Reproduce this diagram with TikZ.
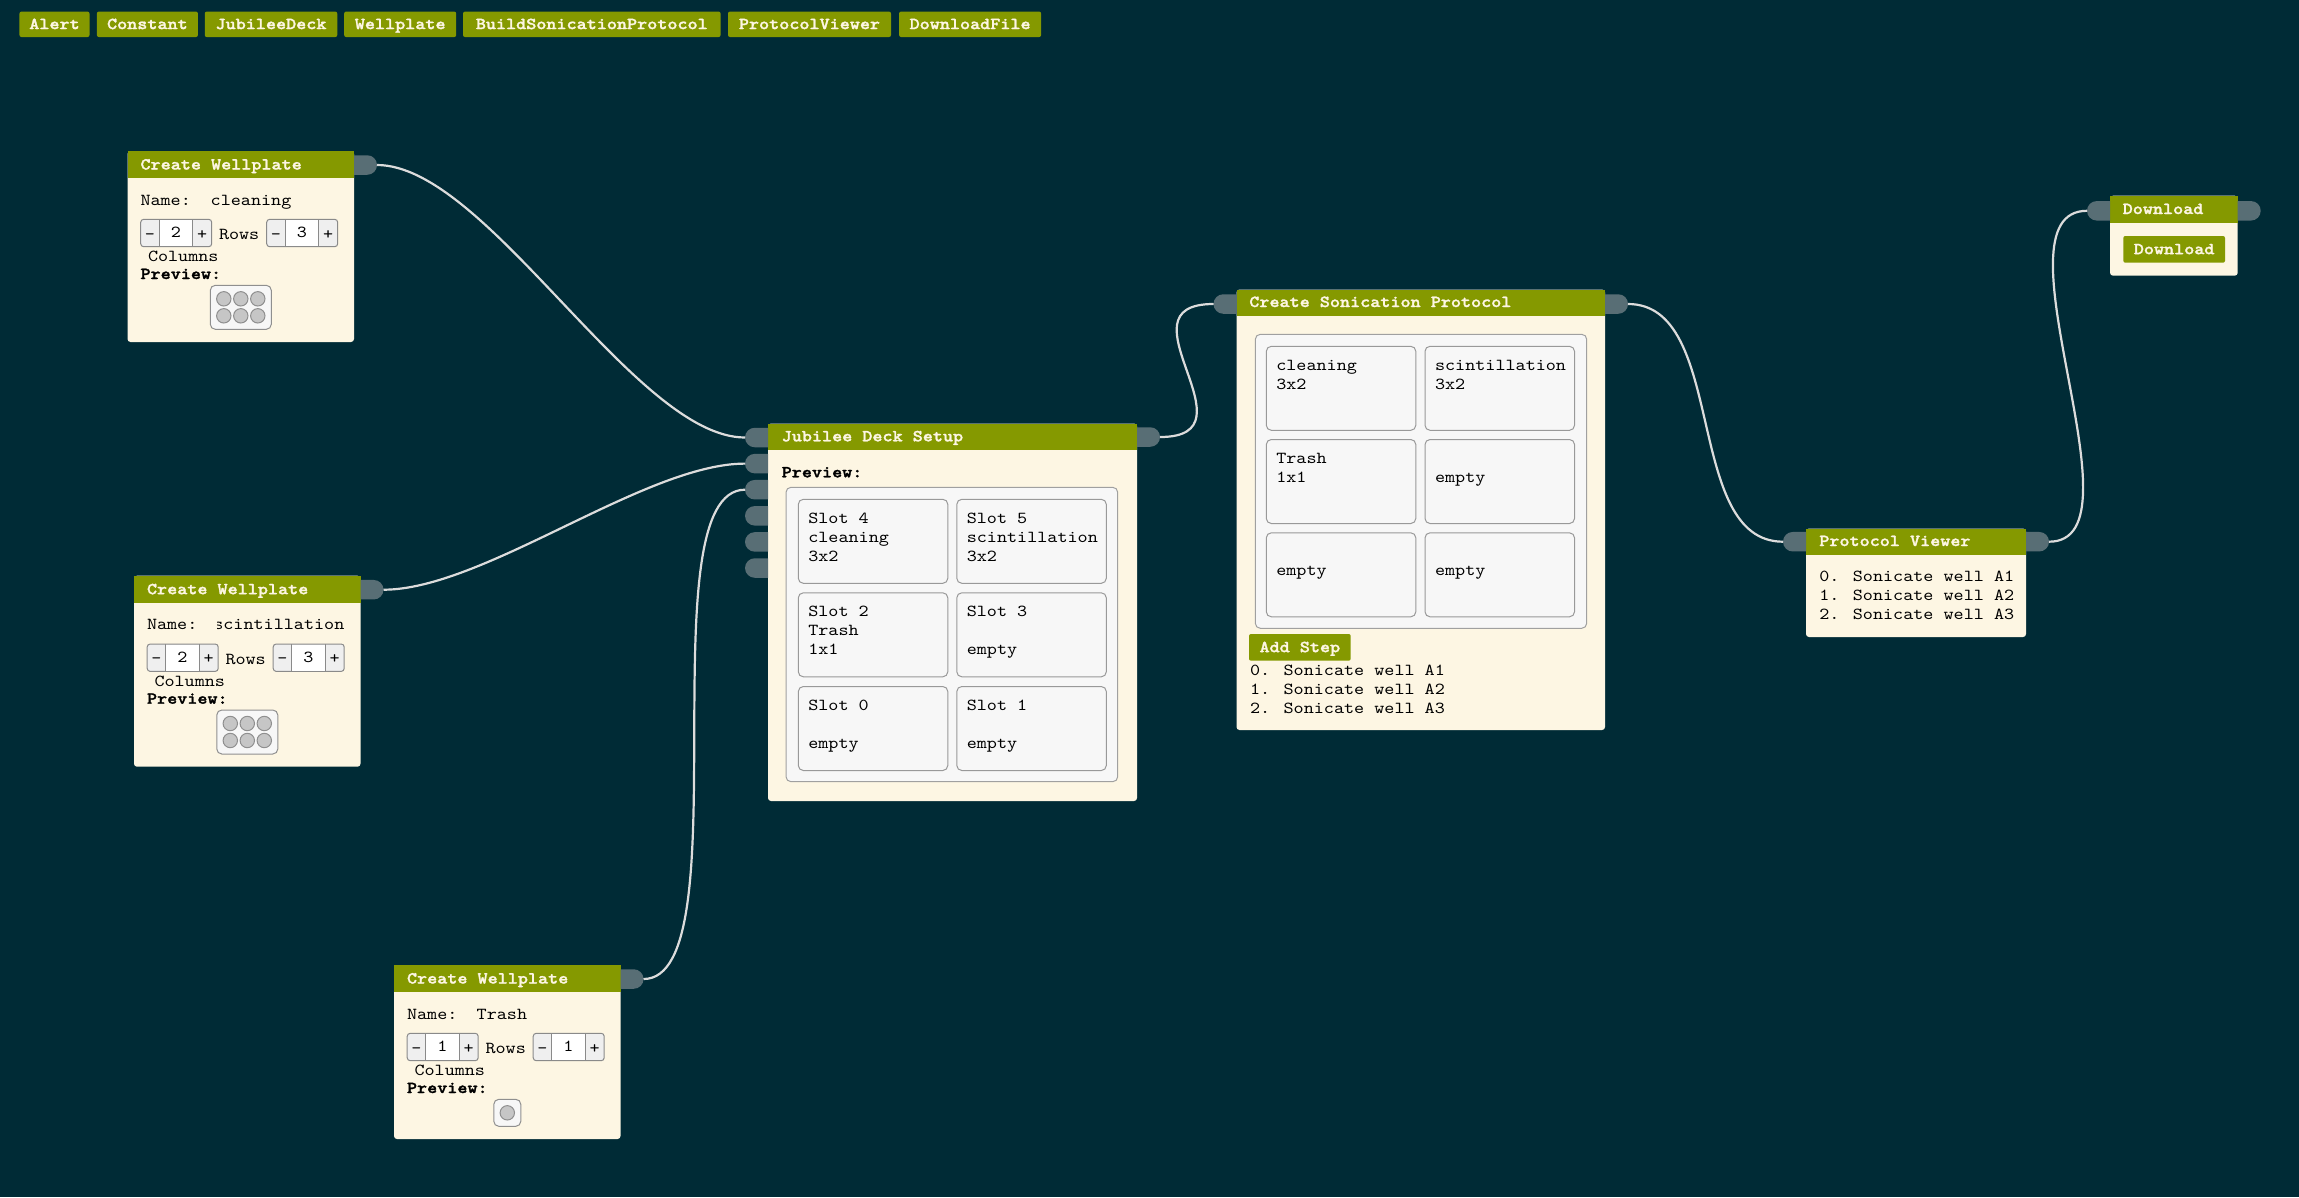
\documentclass[tikz,border=0pt]{standalone}
\usepackage{fontspec}
\setmainfont{lmmono10-regular.otf}[FakeStretch=1.143, BoldFont=lmmonolt10-bold.otf, BoldFeatures={FakeStretch=1.143, FakeBold=1.6}]
\usetikzlibrary{shapes.misc}
\definecolor{bg}{HTML}{002B36}
\definecolor{hdr}{HTML}{859900}
\definecolor{bodyc}{HTML}{FDF6E3}
\definecolor{portc}{HTML}{586E75}
\definecolor{cream}{HTML}{FDF6E3}
\definecolor{linkc}{HTML}{DCDCDC}
\definecolor{cellc}{HTML}{F7F7F7}
\definecolor{cellb}{HTML}{999999}
\definecolor{frameb}{HTML}{A0A0A0}
\definecolor{spinb}{HTML}{8A8A8A}
\definecolor{spinside}{HTML}{EFEFEF}
\definecolor{wellf}{HTML}{C6C6C6}
\definecolor{wellb}{HTML}{8F8F8F}
\tikzset{
  every node/.style={font=\fontsize{16.8bp}{19bp}\selectfont, inner sep=0pt, outer sep=0pt},
  txt/.style={anchor=base west, text=black},
  btxt/.style={anchor=base west, text=black, font=\fontsize{16.8bp}{19bp}\selectfont\bfseries},
  ttl/.style={anchor=base west, text=cream, font=\fontsize{16.8bp}{19bp}\selectfont\bfseries},
  boxbody/.style={anchor=north west, fill=bodyc, rounded corners=3bp},
  boxhead/.style={anchor=north west, fill=hdr},
  inport/.style={rounded rectangle, rounded rectangle east arc=none, fill=portc, minimum width=23bp, minimum height=19.5bp, anchor=east},
  outport/.style={rounded rectangle, rounded rectangle west arc=none, fill=portc, minimum width=23bp, minimum height=19.5bp, anchor=west},
  link/.style={draw=linkc, line width=2.2bp},
  btn/.style={fill=hdr, rounded corners=2bp, text=cream, font=\fontsize{16.8bp}{19bp}\selectfont\bfseries, minimum height=25.5bp, text height=11.6bp, text depth=2bp},
  cell/.style={anchor=north west, fill=cellc, draw=cellb, line width=1bp, rounded corners=5bp, minimum width=149.5bp, minimum height=84bp},
  frame/.style={anchor=north west, fill=cellc, draw=frameb, line width=1bp, rounded corners=5bp},
}
\newcommand\Spinner[3]{%
  \draw[fill=spinside, draw=spinb, line width=1bp, rounded corners=3bp] (#2,68.3) rectangle (#2+71,95.7);
  \fill[white] (#2+18.5,68.8) rectangle (#2+52,95.2);
  \draw[spinb, line width=1bp] (#2+18.5,68.3) -- (#2+18.5,95.7) (#2+52,68.3) -- (#2+52,95.7);
  \node[txt, anchor=base] (#1m) at (#2+9.25,88) {-};
  \node[txt, anchor=base] (#1v) at (#2+35.25,86.5) {#3};
  \node[txt, anchor=base] (#1p) at (#2+61.5,88) {+};
}
\newcommand\WellPlate[9]{%
  \begin{scope}[shift={(#2,#3)}]
    \pgfmathsetmacro\plh{157+17*#9}
    \pgfmathsetmacro\plw{17*#8+10}
    \pgfmathsetmacro\pll{113.3-\plw/2}
    \node[boxbody, minimum width=226.5bp, minimum height=\plh bp] (#1) at (0,0) {};
    \node[boxhead, minimum width=226.5bp, minimum height=27bp] (#1h) at (0,0) {};
    \node[ttl] (#1t) at (13,18.5) {Create Wellplate};
    \node[outport] (#1o) at (226.5,14) {};
    \node[txt] (#1nl) at (13,54) {Name:};
    \begin{scope}
      \clip (83,35) rectangle (222,70);
      \node[txt] (#1nv) at (#4,54) {#5};
    \end{scope}
    \Spinner{#1sa}{13.2}{#6}
    \node[txt] (#1rows) at (91.5,88.5) {Rows};
    \Spinner{#1sb}{139.2}{#7}
    \node[txt] (#1cols) at (20.5,110.5) {Columns};
    \node[btxt] (#1prev) at (13,128) {Preview:};
    \draw[fill=cellc, draw=wellb, line width=1bp, rounded corners=5bp] (\pll,134.3) rectangle ++(\plw,17*#9+10);
    \foreach \ci in {1,...,#8}{
      \foreach \cj in {1,...,#9}{
        \draw[fill=wellf, draw=wellb, line width=1bp] (\pll+13.5+17*\ci-17, 134.3+13.5+17*\cj-17) circle[radius=7.2bp];
      }
    }
  \end{scope}
}
\newcommand\DCell[6]{%
  \node[cell] (#1) at (#2,#3) {};
  \node[txt] (#1a) at (#2+10,#3+24) {#4};
  \node[txt] (#1b) at (#2+10,#3+43) {#5};
  \node[txt] (#1c) at (#2+10,#3+62) {#6};
}
\begin{document}
\begin{tikzpicture}[x=1bp,y=-1bp]
\useasboundingbox (0,0) rectangle (2299,1197);
\fill[bg] (0,0) rectangle (2299,1197);

% toolbar
\node[btn, minimum width=70bp] (bA) at (54.5,24.3) {Alert};
\node[btn, minimum width=101bp] (bC) at (147.4,24.3) {Constant};
\node[btn, minimum width=132.5bp] (bJ) at (271,24.3) {JubileeDeck};
\node[btn, minimum width=112bp] (bW) at (400.2,24.3) {Wellplate};
\node[btn, minimum width=257.5bp] (bB) at (591.8,24.3) {BuildSonicationProtocol};
\node[btn, minimum width=163bp] (bP) at (809.5,24.3) {ProtocolViewer};
\node[btn, minimum width=142bp] (bD) at (970.1,24.3) {DownloadFile};

% wellplates
\WellPlate{wa}{127.5}{151}{83.2}{cleaning}{2}{3}{3}{2}
\WellPlate{wb}{134}{575.7}{79.3}{scintillation}{2}{3}{3}{2}
\WellPlate{wc}{394}{965}{82.7}{Trash}{1}{1}{1}{1}

% Jubilee deck
\node[boxbody, minimum width=369bp, minimum height=377.5bp] (jd) at (768,423.5) {};
\node[boxhead, minimum width=369bp, minimum height=26.6bp] (jdh) at (768,423.5) {};
\node[ttl] (jdt) at (781.7,441.3) {Jubilee Deck Setup};
\node[btxt] (jdp) at (781.7,477.3) {Preview:};
\node[frame, minimum width=331.7bp, minimum height=294.4bp] (jdf) at (786,487.3) {};
\DCell{jc4}{798.3}{499.3}{Slot 4}{cleaning}{3x2}
\DCell{jc5}{956.8}{499.3}{Slot 5}{scintillation}{3x2}
\DCell{jc2}{798.3}{592.8}{Slot 2}{Trash}{1x1}
\DCell{jc3}{956.8}{592.8}{Slot 3}{}{empty}
\DCell{jc0}{798.3}{686.5}{Slot 0}{}{empty}
\DCell{jc1}{956.8}{686.5}{Slot 1}{}{empty}
\foreach \k in {1,...,6}{
  \node[inport] (jin\k) at (768,437.5+26.1*\k-26.1) {};
}
\node[outport] (jo) at (1137,437) {};

% Sonication protocol
\node[boxbody, minimum width=368.5bp, minimum height=440.5bp] (sp) at (1236.5,289.5) {};
\node[boxhead, minimum width=368.5bp, minimum height=26.4bp] (sph) at (1236.5,289.5) {};
\node[ttl] (spt) at (1249.3,307) {Create Sonication Protocol};
\node[frame, minimum width=331.4bp, minimum height=294bp] (spf) at (1255.3,334.3) {};
\DCell{sc1}{1266.3}{346.3}{cleaning}{3x2}{}
\DCell{sc2}{1425}{346.3}{scintillation}{3x2}{}
\DCell{sc3}{1266.3}{439.5}{Trash}{1x1}{}
\DCell{sc4}{1425}{439.5}{}{empty}{}
\DCell{sc5}{1266.3}{532.8}{}{empty}{}
\DCell{sc6}{1425}{532.8}{}{empty}{}
\node[btn, anchor=north west, minimum width=101.7bp, minimum height=26.7bp] (sadd) at (1249,634) {Add Step};
\node[txt] (ss0) at (1250,675) {0. Sonicate well A1};
\node[txt] (ss1) at (1250,694) {1. Sonicate well A2};
\node[txt] (ss2) at (1250,713) {2. Sonicate well A3};
\node[inport] (si) at (1236.5,304) {};
\node[outport] (so) at (1605,304) {};

% Protocol viewer
\node[boxbody, minimum width=220bp, minimum height=108.5bp] (pv) at (1806,528.5) {};
\node[boxhead, minimum width=220bp, minimum height=26bp] (pvh) at (1806,528.5) {};
\node[ttl] (pvt) at (1819.3,546) {Protocol Viewer};
\node[txt] (pv0) at (1819.3,581.7) {0. Sonicate well A1};
\node[txt] (pv1) at (1819.3,600.7) {1. Sonicate well A2};
\node[txt] (pv2) at (1819.3,619.7) {2. Sonicate well A3};
\node[inport] (pvi) at (1806,541.7) {};
\node[outport] (pvo) at (2026,541.7) {};

% Download
\node[boxbody, minimum width=127.7bp, minimum height=80bp] (dl) at (2110,195.7) {};
\node[boxhead, minimum width=127.7bp, minimum height=27bp] (dlh) at (2110,195.7) {};
\node[ttl] (dlt) at (2122.7,214) {Download};
\node[btn, minimum width=101.7bp, minimum height=26.7bp] (dlb) at (2174.15,249.35) {Download};
\node[inport] (di) at (2110,210.8) {};
\node[outport] (dout) at (2237.7,210.8) {};

% links
\draw[link] (wao.east) .. controls +(110,0) and +(-110,0) .. (jin1.west);
\draw[link] (wbo.east) .. controls +(100,0) and +(-100,0) .. (jin2.west);
\draw[link] (wco.east) .. controls +(100,0) and +(-100,0) .. (jin3.west);
\draw[link] (jo.east) .. controls +(100,0) and +(-100,0) .. (si.west);
\draw[link] (so.east) .. controls +(100,0) and +(-100,0) .. (pvi.west);
\draw[link] (pvo.east) .. controls +(100,0) and +(-100,0) .. (di.west);
\end{tikzpicture}
\end{document}
